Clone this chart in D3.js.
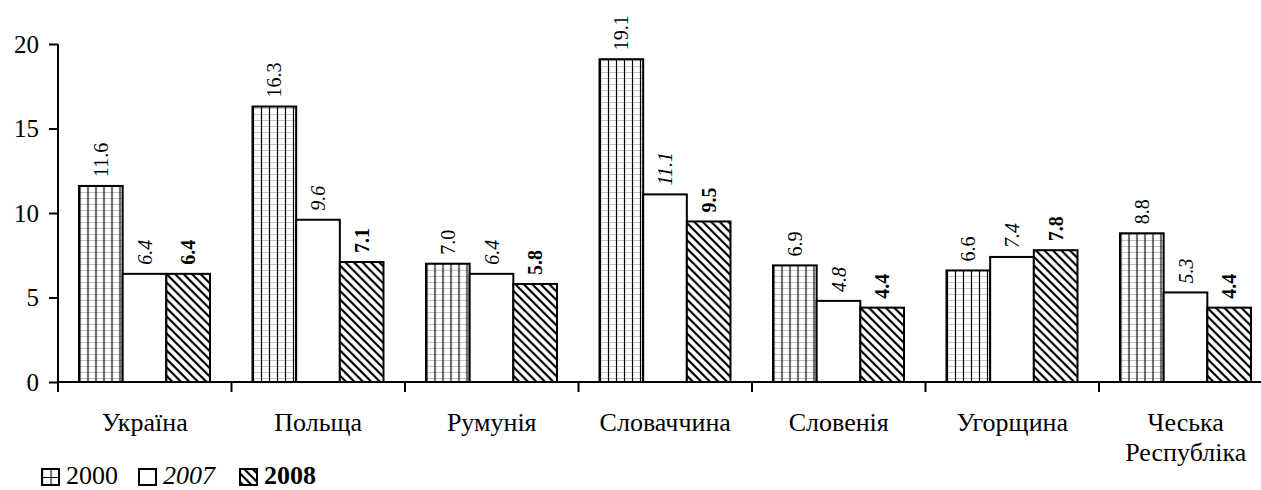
<!DOCTYPE html>
<html><head><meta charset="utf-8">
<script src="https://cdn.jsdelivr.net/npm/d3@7"></script>
<style>
html,body{margin:0;padding:0;background:#fff;}
svg{display:block;}
svg text{font-family:"Liberation Serif","Times New Roman","DejaVu Serif",serif;}
</style></head>
<body>
<svg id="chart" width="1261" height="490"></svg>
<script>
const categories = ["Україна","Польща","Румунія","Словаччина","Словенія","Угорщина","Чеська Республіка"];
const series = ["2000","2007","2008"];
const values2000 = [11.6, 16.3, 7.0, 19.1, 6.9, 6.6, 8.8];
const values2007 = [6.4, 9.6, 6.4, 11.1, 4.8, 7.4, 5.3];
const values2008 = [6.4, 7.1, 5.8, 9.5, 4.4, 7.8, 4.4];
const yTicks = [0, 5, 10, 15, 20];

const FONT = "Liberation Serif, Times New Roman, DejaVu Serif, serif";
const svg = d3.select("#chart");
const defs = svg.append("defs");

// pattern 2000: vertical black lines + light horizontal lines
const p1 = defs.append("pattern").attr("id","p2000").attr("patternUnits","userSpaceOnUse")
  .attr("width",8).attr("height",6).attr("x",1.5).attr("y",0);
p1.append("rect").attr("width",8).attr("height",6).attr("fill","#fff");
p1.append("line").attr("x1",0).attr("x2",8).attr("y1",0.5).attr("y2",0.5).attr("stroke","#c4c4c4").attr("stroke-width",1);
p1.append("line").attr("x1",4.5).attr("x2",4.5).attr("y1",0).attr("y2",6).attr("stroke","#000").attr("stroke-width",1.2);

const legY = 469;
// legend pattern 2000 (coarser)
const pl = defs.append("pattern").attr("id","l2000").attr("patternUnits","userSpaceOnUse")
  .attr("width",8.5).attr("height",8).attr("x",42).attr("y",legY);
pl.append("rect").attr("width",8.5).attr("height",8).attr("fill","#fff");
pl.append("line").attr("x1",0).attr("x2",8.5).attr("y1",0.5).attr("y2",0.5).attr("stroke","#000").attr("stroke-width",1);
pl.append("line").attr("x1",0.5).attr("x2",0.5).attr("y1",0).attr("y2",8).attr("stroke","#000").attr("stroke-width",1.2);

// pattern 2008: diagonal "\" hatch
const p3 = defs.append("pattern").attr("id","p2008").attr("patternUnits","userSpaceOnUse")
  .attr("width",6).attr("height",6).attr("patternTransform","rotate(45)");
p3.append("rect").attr("width",6).attr("height",6).attr("fill","#fff");
p3.append("line").attr("x1",0).attr("x2",6).attr("y1",3).attr("y2",3).attr("stroke","#000").attr("stroke-width",2.2);

const fills = {"2000":"url(#p2000)","2007":"#fff","2008":"url(#p2008)"};
const styles = {"2000":{w:"normal",s:"normal"},"2007":{w:"normal",s:"italic"},"2008":{w:"bold",s:"normal"}};
const legendFills = {"2000":"url(#l2000)","2007":"#fff","2008":"url(#p2008)"};

const left = 58, catW = 173.5;
const x0 = d3.scaleBand().domain(categories).range([left, left + catW*categories.length]).padding(0);
const x1 = d3.scaleBand().domain(series).range([21, 152]).padding(0);
const y = d3.scaleLinear().domain([0,20]).range([382,44]);

const data = categories.map((c,i)=>({cat:c, vals:[
  {s:"2000", v:values2000[i]},{s:"2007", v:values2007[i]},{s:"2008", v:values2008[i]}]}));

const g = svg.append("g");
const cg = g.selectAll("g.cat").data(data).join("g").attr("class","cat")
  .attr("transform",d=>`translate(${x0(d.cat)},0)`);

cg.selectAll("rect").data(d=>d.vals).join("rect")
  .attr("x",d=>x1(d.s)).attr("width",x1.bandwidth())
  .attr("y",d=>y(d.v)).attr("height",d=>y(0)-y(d.v))
  .attr("fill",d=>fills[d.s]).attr("stroke","#000").attr("stroke-width",2);

cg.selectAll("text.val").data(d=>d.vals).join("text").attr("class","val")
  .attr("transform",d=>`translate(${x1(d.s)+x1.bandwidth()/2+7},${y(d.v)-9}) rotate(-90)`)
  .attr("font-family",FONT).attr("font-size",20)
  .attr("font-weight",d=>styles[d.s].w).attr("font-style",d=>styles[d.s].s)
  .text(d=>d.v.toFixed(1));

// Y axis
const yAxis = d3.axisLeft(y).tickValues(yTicks).tickSize(9).tickPadding(10).tickFormat(d3.format("d"));
const ya = svg.append("g").attr("transform",`translate(${left},0)`).call(yAxis)
  .attr("font-family",FONT);
ya.select(".domain").attr("stroke-width",2).attr("d",`M0,${y(0)}V${y(20)}`);
ya.selectAll(".tick line").attr("stroke-width",2);
ya.selectAll(".tick text").attr("font-size",25).attr("font-family",FONT).attr("fill","#000");

// X axis
const xa = svg.append("g").attr("transform",`translate(0,${y(0)})`);
xa.append("line").attr("x1",left).attr("x2",1261).attr("y1",0).attr("y2",0).attr("stroke","#000").attr("stroke-width",2);
xa.selectAll("line.tk").data(categories).join("line").attr("class","tk")
  .attr("x1",d=>x0(d)).attr("x2",d=>x0(d)).attr("y1",0).attr("y2",10).attr("stroke","#000").attr("stroke-width",2);
const lbl = xa.selectAll("text.cl").data(categories).join("text").attr("class","cl")
  .attr("x",d=>x0(d)+x0.bandwidth()/2).attr("y",49)
  .attr("text-anchor","middle").attr("font-family",FONT).attr("font-size",26);
lbl.each(function(d){
  const parts = d.split(" ");
  const t = d3.select(this);
  parts.forEach((p,i)=>t.append("tspan").attr("x",x0(d)+x0.bandwidth()/2).attr("dy",i?30:0).text(p));
});

// Legend
const legendX = [42, 139, 240];
const lg = svg.append("g");
series.forEach((s,i)=>{
  lg.append("rect").attr("x",legendX[i]).attr("y",legY).attr("width",17).attr("height",16)
    .attr("fill",legendFills[s]).attr("stroke","#000").attr("stroke-width",2);
  lg.append("text").attr("x",legendX[i]+24).attr("y",legY+15).attr("font-family",FONT).attr("font-size",26)
    .attr("font-weight",styles[s].w).attr("font-style",styles[s].s).text(s);
});
</script>
</body></html>
